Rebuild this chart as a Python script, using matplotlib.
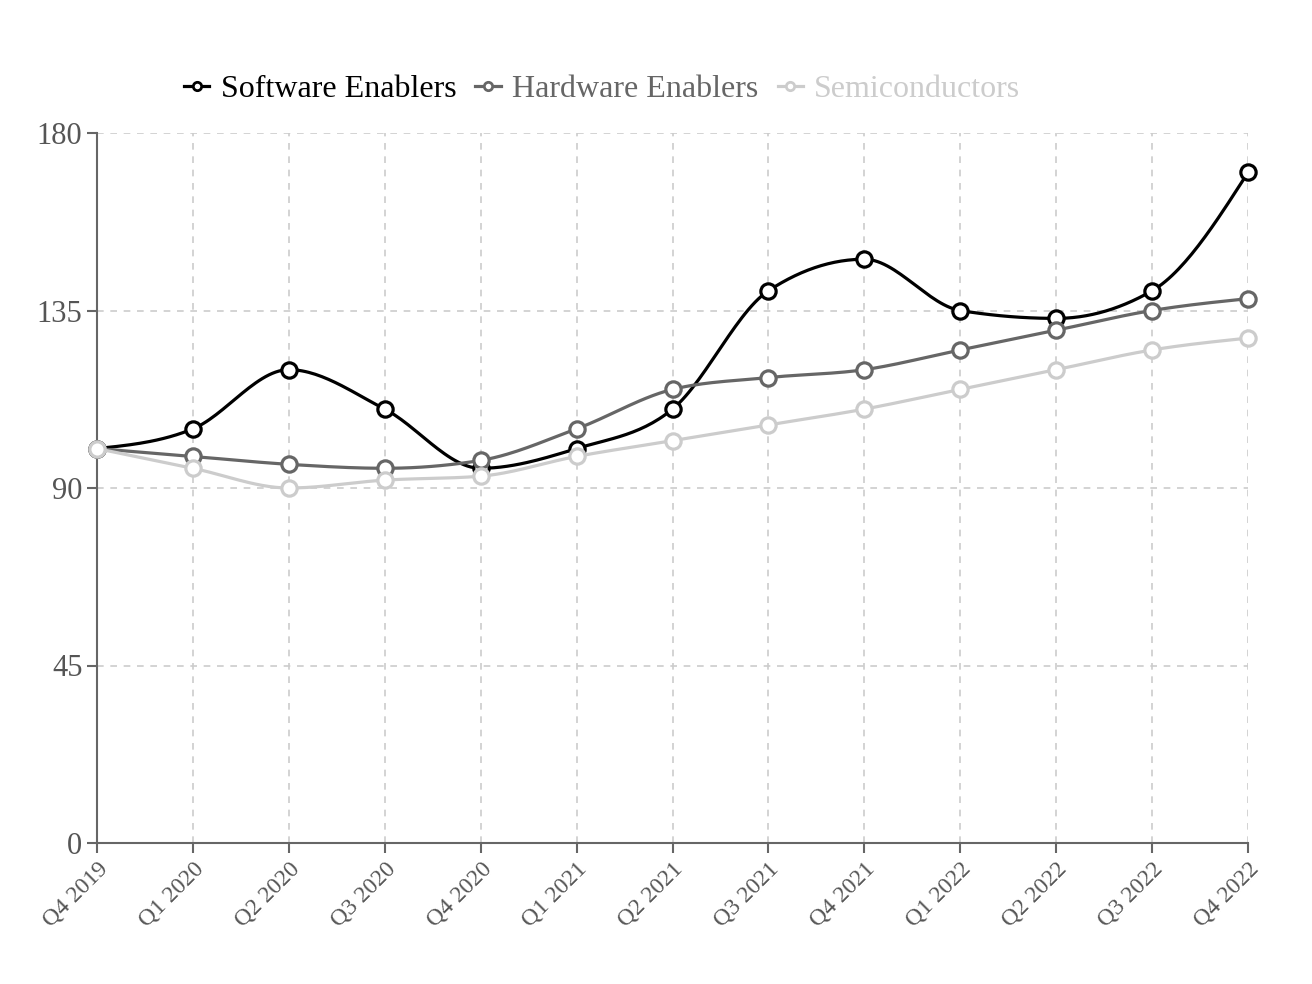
import numpy as np
from matplotlib import pyplot as plt

plt.rcParams['font.family'] = ['Liberation Serif', 'DejaVu Serif']

quarters = ["Q4 2019", "Q1 2020", "Q2 2020", "Q3 2020", "Q4 2020", "Q1 2021", "Q2 2021",
            "Q3 2021", "Q4 2021", "Q1 2022", "Q2 2022", "Q3 2022", "Q4 2022"]
software = [100, 105, 120, 110, 95, 100, 110, 140, 148, 135, 133, 140, 170]
hardware = [100, 98, 96, 95, 97, 105, 115, 118, 120, 125, 130, 135, 138]
semis = [100, 95, 90, 92, 93, 98, 102, 106, 110, 115, 120, 125, 128]

names = ["Software Enablers", "Hardware Enablers", "Semiconductors"]
colors = ["#000000", "#666666", "#cccccc"]


def monotone(x, y, n=30):
    # same shape as d3 curveMonotoneX
    x = np.asarray(x, float)
    y = np.asarray(y, float)
    h = np.diff(x)
    s = np.diff(y) / h
    t = np.zeros(len(x))
    for i in range(1, len(x) - 1):
        p = (s[i-1] * h[i] + s[i] * h[i-1]) / (h[i-1] + h[i])
        t[i] = (np.sign(s[i-1]) + np.sign(s[i])) * min(abs(s[i-1]), abs(s[i]), 0.5 * abs(p))
    t[0] = (3 * s[0] - t[1]) / 2
    t[-1] = (3 * s[-1] - t[-2]) / 2
    xs, ys = [], []
    for i in range(len(x) - 1):
        u = np.linspace(0, 1, n)
        h00 = 2*u**3 - 3*u**2 + 1
        h10 = u**3 - 2*u**2 + u
        h01 = -2*u**3 + 3*u**2
        h11 = u**3 - u**2
        xs.extend(x[i] + u * h[i])
        ys.extend(h00*y[i] + h10*h[i]*t[i] + h01*y[i+1] + h11*h[i]*t[i+1])
    return np.array(xs), np.array(ys)


fig = plt.figure(figsize=(13.12, 9.84), dpi=100)
ax = fig.add_axes([97/1312, 1-843/984, (1248-97)/1312, (843-133)/984])

xpos = np.arange(len(quarters))
z = 3
for vals, c in zip([software, hardware, semis], colors):
    sx, sy = monotone(xpos, vals)
    ax.plot(sx, sy, color=c, lw=2.3, zorder=z, clip_on=False)
    ax.plot(xpos, vals, 'o', ms=11, mfc='white', mec=c, mew=2.3, zorder=z + 0.5, clip_on=False)
    z += 1

handles = []
for name, c in zip(names, colors):
    h, = ax.plot([], [], '-o', color=c, lw=2.3, ms=6, mfc='white', mec=c, mew=2)
    handles.append(h)

ax.set_xlim(0, len(quarters) - 1)
ax.set_ylim(0, 180)
ax.set_yticks([0, 45, 90, 135, 180])
ax.set_xticks(xpos)
ax.set_xticklabels(quarters, rotation=45, ha='right', rotation_mode='anchor', fontsize=17, color='#555555')
ax.tick_params(axis='y', labelsize=22, labelcolor='#555555', color='#666666', length=7, width=1.5)
ax.tick_params(axis='x', color='#666666', length=7, width=1.5, pad=4)
ax.grid(True, color='#cccccc', linestyle=(0, (4, 4)), lw=1.2)
for sp in ['top', 'right']:
    ax.spines[sp].set_visible(False)
for sp in ['left', 'bottom']:
    ax.spines[sp].set_color('#666666')
    ax.spines[sp].set_linewidth(1.5)
    ax.spines[sp].set_zorder(2.5)

leg = fig.legend(handles, names, loc='center', bbox_to_anchor=(0.459, 0.909), ncol=3,
                 frameon=False, fontsize=23, handlelength=0.8, handletextpad=0.35, columnspacing=0.6)
for txt, c in zip(leg.get_texts(), colors):
    txt.set_color(c)

plt.savefig("out.png")
